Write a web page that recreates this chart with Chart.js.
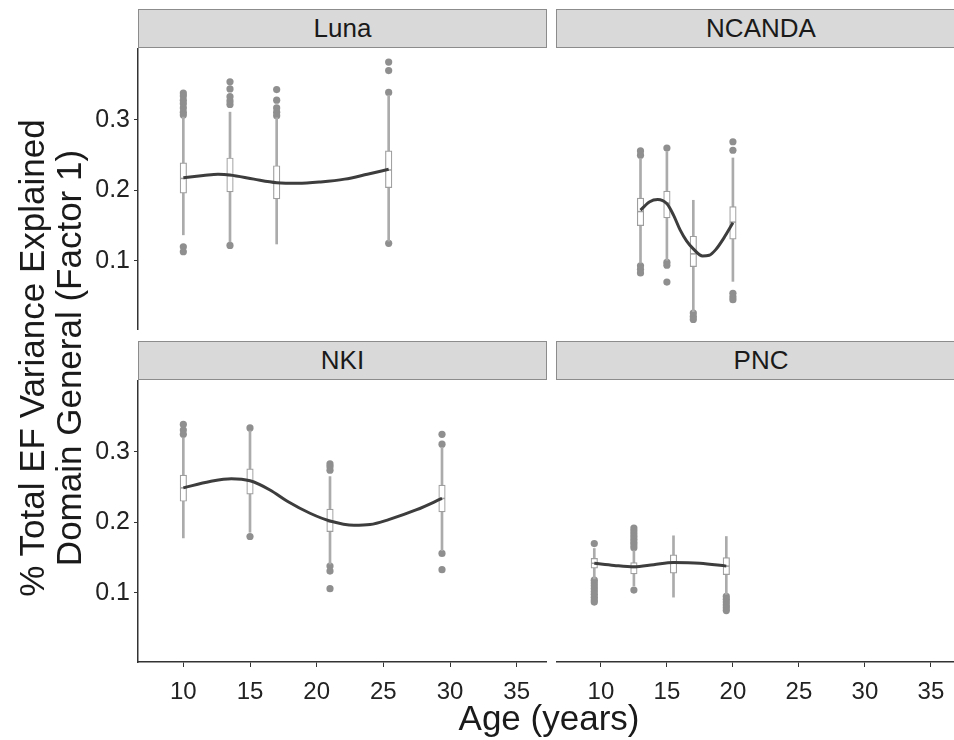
<!DOCTYPE html>
<html>
<head>
<meta charset="utf-8">
<script src="https://cdn.jsdelivr.net/npm/chart.js@4.4.1/dist/chart.umd.min.js"></script>
<style>
  body { margin: 0; width: 954px; height: 740px; overflow: hidden; background: #fff; position: relative;
         font-family: "Liberation Sans", Arial, sans-serif; color: #1a1a1a; }
  canvas { position: absolute; }
  .strip { position: absolute; height: 39px; background: #d9d9d9; border: 1px solid #8c8c8c; box-sizing: border-box;
           text-align: center; font-size: 26px; line-height: 37px; }
  .ytitle { position: absolute; left: 50px; top: 358px; width: 640px; transform: translate(-50%, -50%) rotate(-90deg);
            text-align: center; font-size: 35px; line-height: 37px; }
  .xtitle { position: absolute; left: 549px; top: 718px; transform: translate(-50%, -50%); font-size: 35px; white-space: nowrap; }
</style>
</head>
<body>
<div class="strip" style="left:138px; top:9px; width:409px;">Luna</div>
<div class="strip" style="left:556px; top:9px; width:410px;">NCANDA</div>
<div class="strip" style="left:138px; top:341px; width:409px;">NKI</div>
<div class="strip" style="left:556px; top:341px; width:410px;">PNC</div>

<canvas id="luna" width="548" height="282" style="left:0; top:48px;"></canvas>
<canvas id="ncanda" width="404" height="282" style="left:556px; top:48px;"></canvas>
<canvas id="nki" width="548" height="342" style="left:0; top:380px;"></canvas>
<canvas id="pnc" width="404" height="342" style="left:556px; top:380px;"></canvas>

<div class="ytitle">% Total EF Variance Explained<br>Domain General (Factor 1)</div>
<div class="xtitle">Age (years)</div>

<script>
const xTicks = [10, 15, 20, 25, 30, 35];
const yTicks = [0.1, 0.2, 0.3];
const xMin = 6.6, xMax = 37.2;
const yMin = 0.002, yMax = 0.402;

// Luna
const lunaAge = [10, 13.5, 17, 25.4];
const lunaLow = [0.137, 0.127, 0.124, 0.128];
const lunaQ1 = [0.196, 0.198, 0.188, 0.204];
const lunaMed = [0.217, 0.221, 0.211, 0.229];
const lunaQ3 = [0.239, 0.246, 0.235, 0.256];
const lunaHigh = [0.304, 0.311, 0.303, 0.335];
const lunaOut = [
  [0.338, 0.334, 0.328, 0.323, 0.317, 0.311, 0.307, 0.120, 0.113],
  [0.354, 0.344, 0.333, 0.327, 0.322, 0.122],
  [0.343, 0.328, 0.317, 0.311, 0.306],
  [0.382, 0.370, 0.339, 0.125]
];
const lunaFitAge = [10, 11.5, 12.6, 13.5, 15.3, 17, 18.6, 20.3, 22.1, 23.8, 25.4];
const lunaFit = [0.218, 0.221, 0.223, 0.222, 0.216, 0.211, 0.210, 0.212, 0.216, 0.223, 0.230];

// NCANDA
const ncandaAge = [13, 15, 17, 20];
const ncandaLow = [0.097, 0.101, 0.028, 0.071];
const ncandaQ1 = [0.150, 0.161, 0.092, 0.131];
const ncandaMed = [0.170, 0.182, 0.110, 0.155];
const ncandaQ3 = [0.189, 0.199, 0.135, 0.177];
const ncandaHigh = [0.245, 0.255, 0.186, 0.246];
const ncandaOut = [
  [0.256, 0.250, 0.093, 0.088, 0.083],
  [0.260, 0.098, 0.094, 0.070],
  [0.026, 0.021, 0.017],
  [0.269, 0.257, 0.054, 0.049, 0.045]
];
const ncandaFitAge = [13, 13.7, 14.3, 15, 15.5, 16, 16.5, 17, 17.7, 18.2, 18.7, 19.3, 20];
const ncandaFit = [0.172, 0.184, 0.187, 0.181, 0.165, 0.144, 0.128, 0.117, 0.107, 0.108, 0.116, 0.132, 0.154];

// NKI
const nkiAge = [10, 15, 21, 29.4];
const nkiLow = [0.178, 0.186, 0.141, 0.160];
const nkiQ1 = [0.230, 0.240, 0.187, 0.215];
const nkiMed = [0.249, 0.259, 0.201, 0.234];
const nkiQ3 = [0.267, 0.276, 0.219, 0.253];
const nkiHigh = [0.320, 0.330, 0.265, 0.306];
const nkiOut = [
  [0.339, 0.331, 0.325],
  [0.334, 0.180],
  [0.283, 0.279, 0.274, 0.138, 0.131, 0.106],
  [0.325, 0.311, 0.156, 0.133]
];
const nkiFitAge = [10, 12, 13.6, 15, 16.5, 17.8, 19.5, 21, 22.8, 24, 25.4, 27.5, 29.4];
const nkiFit = [0.249, 0.258, 0.262, 0.259, 0.246, 0.230, 0.213, 0.202, 0.196, 0.197, 0.204, 0.218, 0.234];

// PNC
const pncAge = [9.5, 12.5, 15.5, 19.5];
const pncLow = [0.120, 0.110, 0.094, 0.098];
const pncQ1 = [0.135, 0.127, 0.128, 0.126];
const pncMed = [0.142, 0.136, 0.143, 0.138];
const pncQ3 = [0.149, 0.143, 0.154, 0.150];
const pncHigh = [0.163, 0.160, 0.181, 0.180];
const pncOut = [
  [0.170, 0.118, 0.114, 0.110, 0.106, 0.102, 0.098, 0.094, 0.090, 0.087],
  [0.192, 0.188, 0.184, 0.180, 0.176, 0.172, 0.168, 0.164, 0.104],
  [],
  [0.095, 0.091, 0.087, 0.083, 0.079, 0.075]
];
const pncFitAge = [9.5, 11, 12.5, 14, 15.5, 17.5, 19.5];
const pncFit = [0.142, 0.139, 0.137, 0.140, 0.143, 0.142, 0.138];

const FONT = '"Liberation Sans", Arial, sans-serif';
const AXIS = '#333333';
const BOX = '#9e9e9e';

function panel(id, age, low, q1, med, q3, high, out, fitAge, fit, showX, showY) {
  const whiskers = age.map((a, i) => ({ x: a, y: [low[i], high[i]] }));
  const boxes = age.map((a, i) => ({ x: a, y: [q1[i], q3[i]] }));
  const medians = age.map((a, i) => ({ x: a, y: med[i] }));
  const outliers = [];
  out.forEach((vals, i) => vals.forEach(v => outliers.push({ x: age[i], y: v })));
  const curve = fitAge.map((a, i) => ({ x: a, y: fit[i] }));

  new Chart(document.getElementById(id), {
    type: 'bar',
    data: {
      datasets: [
        { type: 'line', data: curve, order: 0, borderColor: '#3d3d3d', borderWidth: 3,
          pointRadius: 0, tension: 0.4, cubicInterpolationMode: 'monotone', fill: false },
        { type: 'scatter', data: medians, order: 1, pointStyle: 'line', pointRadius: 3,
          borderColor: BOX, borderWidth: 1.5 },
        { type: 'bar', data: boxes, order: 2, grouped: false, barThickness: 6.5,
          backgroundColor: '#ffffff', borderColor: BOX, borderWidth: 1.2, borderSkipped: false },
        { type: 'bar', data: whiskers, order: 3, grouped: false, barThickness: 2,
          backgroundColor: '#ababab', borderWidth: 0 },
        { type: 'scatter', data: outliers, order: 4, pointRadius: 3.6,
          backgroundColor: '#8f8f8f', borderWidth: 0 }
      ]
    },
    options: {
      responsive: false,
      animation: false,
      events: [],
      layout: { autoPadding: false, padding: { top: 0, bottom: 0, left: 0, right: showY ? 2 : 0 } },
      plugins: { legend: { display: false }, tooltip: { enabled: false } },
      scales: {
        x: {
          type: 'linear', min: xMin, max: xMax, offset: false, display: showX,
          afterBuildTicks: s => { s.ticks = xTicks.map(v => ({ value: v })); },
          // fixed axis band, no extra room for edge labels
          afterFit: s => { s.height = showX ? 60 : 0; s.paddingLeft = 0; s.paddingRight = 0; },
          grid: { drawOnChartArea: false, offset: false, color: AXIS, tickLength: 5 },
          border: { color: AXIS, width: 1.5 },
          ticks: { font: { family: FONT, size: 24 }, color: '#222', padding: 11, maxRotation: 0,
                   callback: v => String(v) }
        },
        y: {
          type: 'linear', min: yMin, max: yMax, display: showY,
          afterBuildTicks: s => { s.ticks = yTicks.map(v => ({ value: v })); },
          afterFit: s => { s.width = showY ? 138 : 0; s.paddingTop = 0; s.paddingBottom = 0; },
          grid: { drawOnChartArea: false, color: AXIS, tickLength: 4 },
          border: { color: AXIS, width: 1.5 },
          ticks: { font: { family: FONT, size: 25 }, color: '#222', padding: 4,
                   callback: v => v.toFixed(1) }
        }
      }
    }
  });
}

panel('luna', lunaAge, lunaLow, lunaQ1, lunaMed, lunaQ3, lunaHigh, lunaOut, lunaFitAge, lunaFit, false, true);
panel('ncanda', ncandaAge, ncandaLow, ncandaQ1, ncandaMed, ncandaQ3, ncandaHigh, ncandaOut, ncandaFitAge, ncandaFit, false, false);
panel('nki', nkiAge, nkiLow, nkiQ1, nkiMed, nkiQ3, nkiHigh, nkiOut, nkiFitAge, nkiFit, true, true);
panel('pnc', pncAge, pncLow, pncQ1, pncMed, pncQ3, pncHigh, pncOut, pncFitAge, pncFit, true, false);
</script>
</body>
</html>
